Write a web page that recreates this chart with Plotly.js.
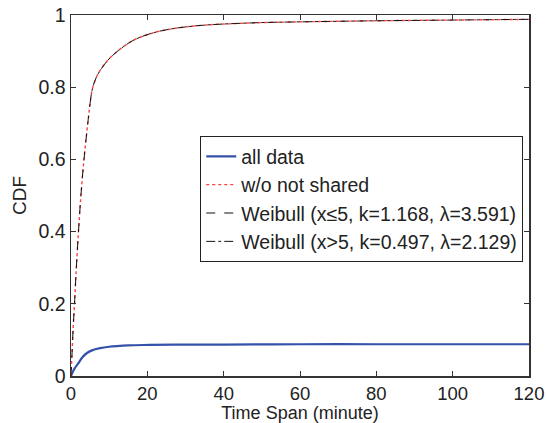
<!DOCTYPE html>
<html>
<head>
<meta charset="utf-8">
<script src="https://cdn.plot.ly/plotly-3.0.1.min.js"></script>
<style>html,body{margin:0;padding:0;background:#fff;}#chart{width:547px;height:423px;}</style>
</head>
<body>
<div id="chart"></div>
<script>
// Data
const allX = [0, 0.5, 1, 1.9, 3, 4.1, 5.5, 7.6, 10, 12, 15, 20.7, 30, 40, 60, 80, 100, 120];
const allY = [0, 0.012, 0.022, 0.035, 0.052, 0.063, 0.071, 0.077, 0.081, 0.083, 0.085, 0.086, 0.087, 0.087, 0.088, 0.088, 0.088, 0.088];

const sharedX = [0, 0.3, 0.6, 0.87, 1.3, 1.9, 2.6, 3.4, 4.4, 5, 5.6, 6.7, 8, 9.35, 11, 13.7, 16, 18, 22, 26, 30, 35, 40, 50, 60, 80, 100, 120];
const sharedY = [0, 0.07, 0.14, 0.19, 0.28, 0.39, 0.5, 0.6, 0.7, 0.755, 0.795, 0.829, 0.852, 0.871, 0.889, 0.912, 0.928, 0.938, 0.952, 0.961, 0.967, 0.972, 0.975, 0.979, 0.981, 0.984, 0.986, 0.988];

const weib1X = [0, 0.3, 0.6, 0.87, 1.3, 1.9, 2.6, 3.4, 4.4, 5];
const weib1Y = [0, 0.07, 0.14, 0.19, 0.28, 0.39, 0.5, 0.6, 0.7, 0.755];

const weib2X = [5, 5.6, 6.7, 8, 9.35, 11, 13.7, 16, 18, 22, 26, 30, 35, 40, 50, 60, 80, 100, 120];
const weib2Y = [0.755, 0.795, 0.829, 0.852, 0.871, 0.889, 0.912, 0.928, 0.938, 0.952, 0.961, 0.967, 0.972, 0.975, 0.979, 0.981, 0.984, 0.986, 0.988];

const xTicks = [0, 20, 40, 60, 80, 100, 120];
const yTicks = [0, 0.2, 0.4, 0.6, 0.8, 1];
const yTickText = ['0', '0.2', '0.4', '0.6', '0.8', '1'];

const traces = [
  {x: allX, y: allY, mode: 'lines', name: 'all data', line: {color: '#3552aa', width: 2.2, shape: 'spline'}},
  {x: sharedX, y: sharedY, mode: 'lines', name: 'w/o not shared', line: {color: '#ff4040', width: 1.4, dash: 'dot', shape: 'spline'}},
  {x: weib1X, y: weib1Y, mode: 'lines', name: 'Weibull (x\u22645, k=1.168, \u03bb=3.591)', line: {color: '#111', width: 1, dash: 'dash', shape: 'spline'}},
  {x: weib2X, y: weib2Y, mode: 'lines', name: 'Weibull (x>5, k=0.497, \u03bb=2.129)', line: {color: '#111', width: 1, dash: 'dashdot', shape: 'spline'}}
];

const fam = 'Liberation Sans, Arial, sans-serif';
const font = {family: fam, size: 19.5, color: '#222'};

const layout = {
  width: 547, height: 423,
  margin: {l: 71, r: 18, t: 15, b: 47, pad: 0},
  paper_bgcolor: '#fff', plot_bgcolor: '#fff',
  font: font,
  showlegend: true,
  legend: {
    x: 0.987, xanchor: 'right', y: 0.665, yanchor: 'top',
    bgcolor: '#fff', bordercolor: '#222', borderwidth: 1.2,
    font: {family: fam, size: 19.5, color: '#222'},
    tracegroupgap: 0, itemwidth: 30
  },
  xaxis: {
    range: [0, 120], tickvals: xTicks, ticks: 'inside', ticklen: 5, tickcolor: '#333',
    tickfont: {family: fam, size: 18.5, color: '#222'},
    showline: true, linecolor: '#333', linewidth: 1.5, mirror: 'ticks',
    showgrid: false, zeroline: false, fixedrange: true,
    title: {text: 'Time Span (minute)', font: {family: fam, size: 18, color: '#222'}, standoff: 3}
  },
  yaxis: {
    range: [0, 1], tickvals: yTicks, ticktext: yTickText, ticks: 'inside', ticklen: 5, tickcolor: '#333',
    tickfont: {family: fam, size: 19.5, color: '#222'},
    showline: true, linecolor: '#333', linewidth: 1.5, mirror: 'ticks',
    showgrid: false, zeroline: false, fixedrange: true,
    title: {text: 'CDF', font: {family: fam, size: 19, color: '#222'}, standoff: 7}
  }
};

Plotly.newPlot('chart', traces, layout, {staticPlot: true, displayModeBar: false});
</script>
</body>
</html>
